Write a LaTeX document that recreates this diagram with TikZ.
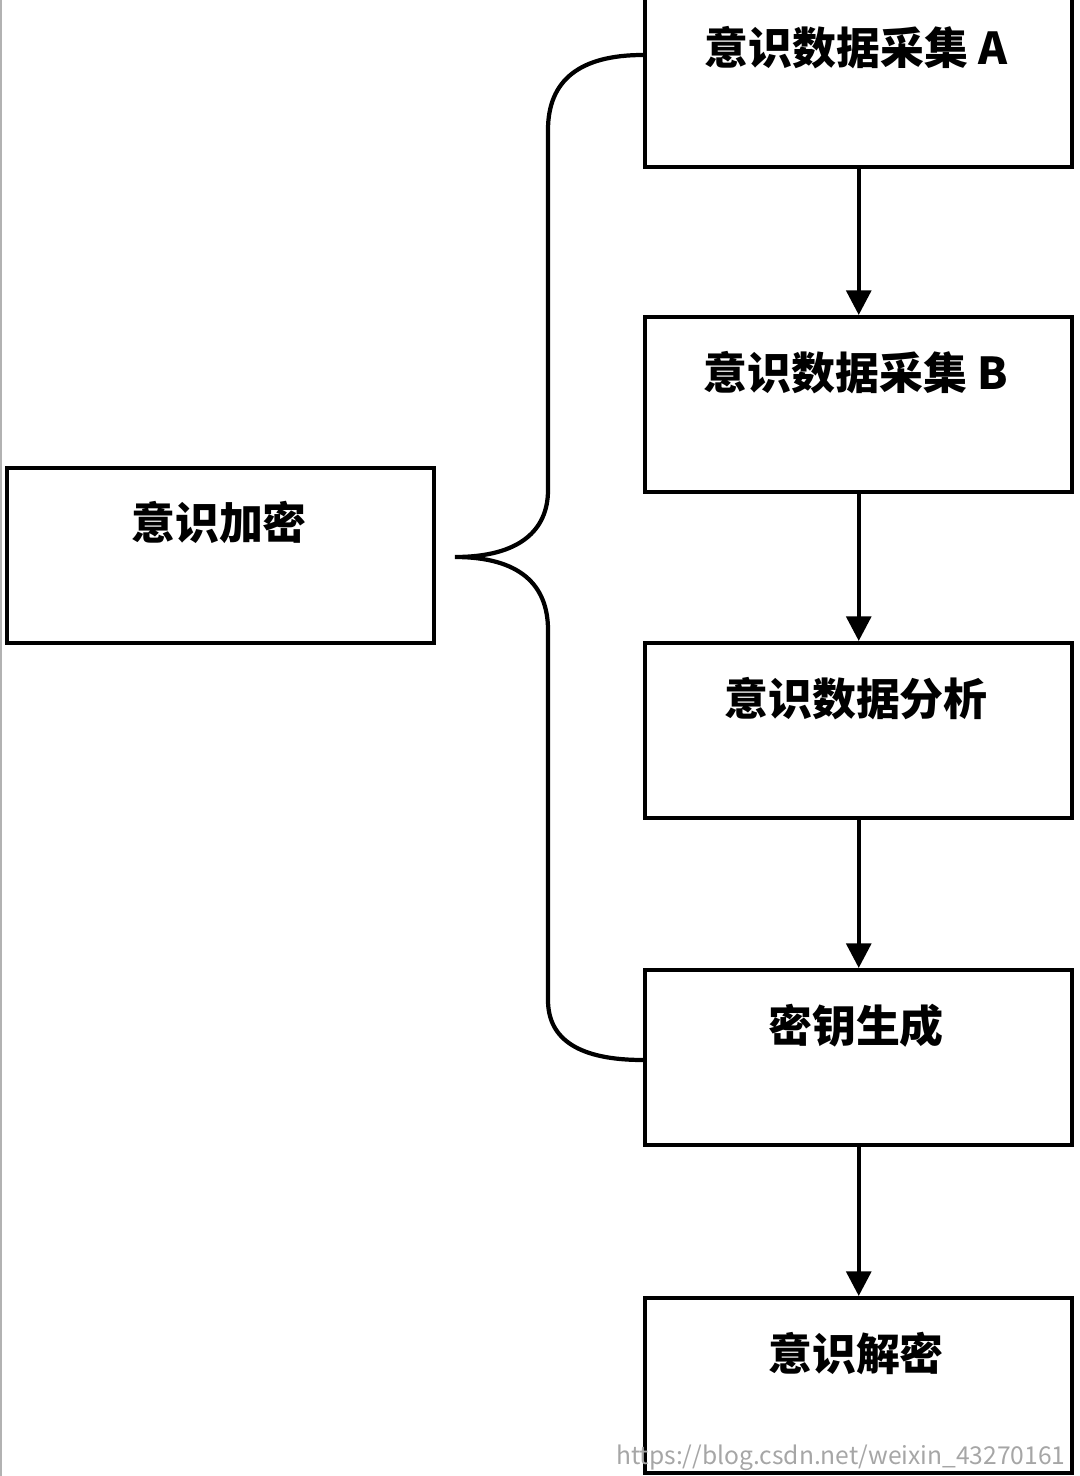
\documentclass[tikz,border=0pt]{standalone}
\usepackage{fontspec}
\setmainfont{Noto Sans CJK SC}
\usetikzlibrary{arrows.meta, positioning}

\begin{document}
\begin{tikzpicture}[x=0.01cm, y=-0.01cm,
    box/.style={draw, line width=1.2pt, minimum width=4.27cm, minimum height=1.75cm, inner sep=0pt},
    lbl/.style={font=\fontsize{12.5}{14}\selectfont\bfseries},
    flow/.style={-{Triangle[length=7pt, width=7pt]}, line width=1.2pt}]
                  \useasboundingbox (0, 0) rectangle (1080, 1476);
                  \draw[line width=0.6pt, gray!60] (1, 0) -- (1, 1476);

                  % right column
                  \foreach[count=\i] \y/\txt in {-10/意识数据采集 A, 315/意识数据采集 B, 641/意识数据分析, 968/密钥生成, 1296/意识解密} {
                  \node[box, anchor=north west] (b\i) at (643, \y) {};
                  \node[lbl] (t\i) at (856, \y+58) {\txt};
                  }

                  \foreach \i [evaluate=\i as \j using int(\i+1)] in {1,...,4}
                  \draw[flow] (b\i.south) -- (b\j.north);

                  % left box and brace
                  \node[box, anchor=north west] (enc) at (5, 466) {};
                  \node[lbl] (tenc) at (219, 522) {意识加密};

                  \coordinate (tip) at (455, 557);
                  \coordinate (bt) at (643, 55);
                  \coordinate (bb) at (643, 1060);
                  \draw[line width=1.2pt] (bt) .. controls (580, 55) and (548, 80) .. (548, 130)
                    -- (548, 490) .. controls (548, 530) and (520, 557) .. (tip)
                    .. controls (520, 557) and (548, 585) .. (548, 630)
                    -- (548, 1000) .. controls (548, 1040) and (580, 1060) .. (bb);

                  \node[gray!70, font=\fontsize{7}{8}\selectfont, anchor=east] (wm) at (1078, 1458) {https://blog.csdn.net/weixin\_43270161};
\end{tikzpicture}
\end{document}
